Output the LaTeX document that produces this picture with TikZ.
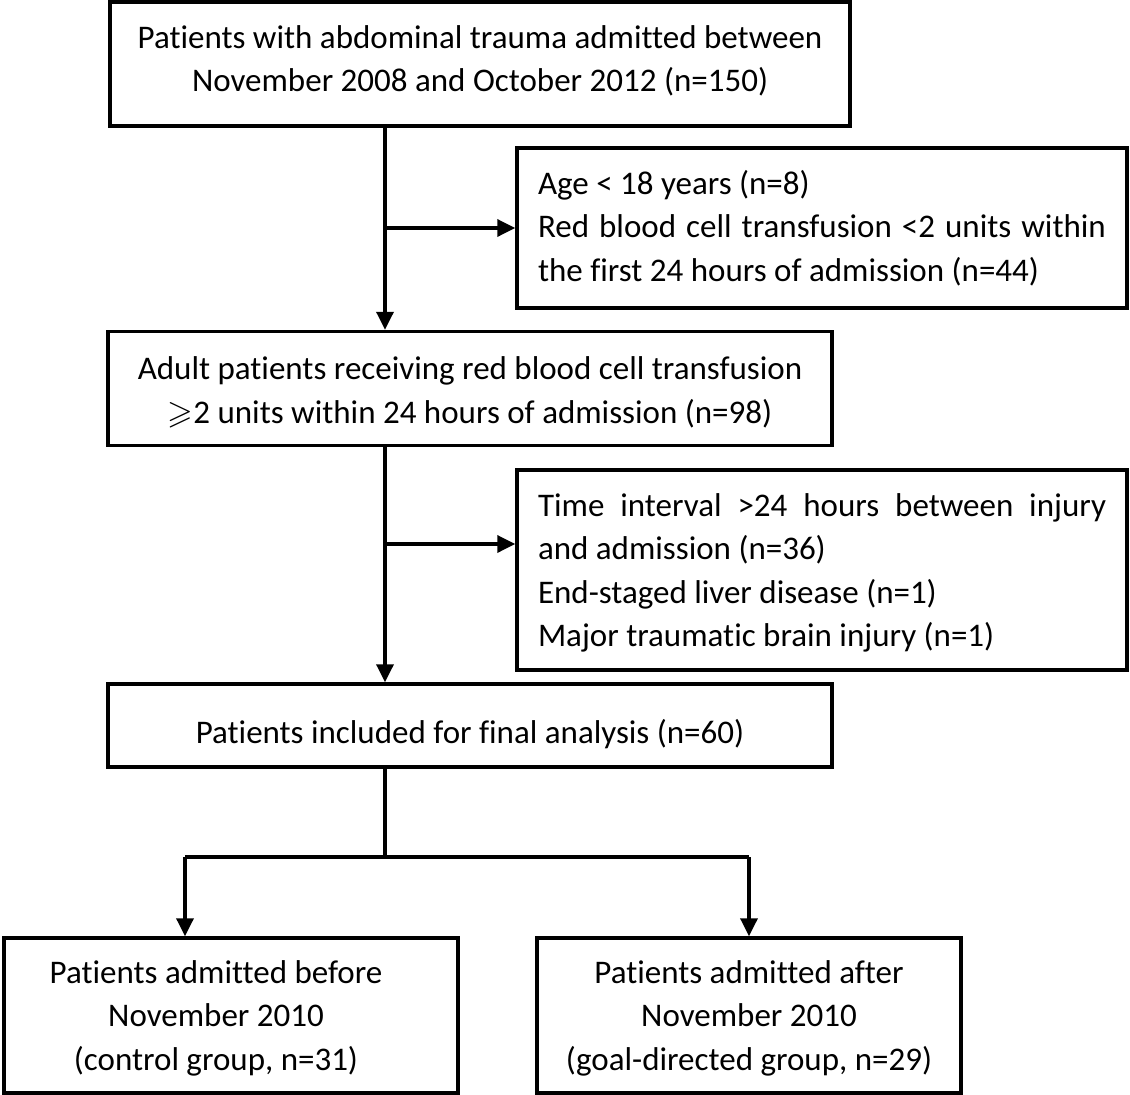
\documentclass[tikz,border=0pt]{standalone}
\usepackage{fontspec}
\setmainfont{Carlito}[Ligatures=NoCommon]
\usepackage{amssymb}
\usetikzlibrary{arrows.meta}
\begin{document}
\begin{tikzpicture}[x=1pt,y=-1pt,line width=3.5pt,
  txt/.style={font=\fontsize{33}{43.5}\selectfont},
  box/.style={txt,draw,line width=3.5pt,inner sep=0pt,align=center},
  sidebox/.style={txt,draw,line width=3.5pt,inner xsep=21pt,inner ysep=0pt,
    text width=568pt,align=flush left},
  arr/.style={-{Triangle[length=18pt,width=17pt]}}]
\useasboundingbox (0,0) rectangle (1130,1095);
\node[box,minimum width=740pt,minimum height=124pt] (b1) at (480,64) {};
\node[txt,align=center] (b1t) at (480,61)
  {Patients with abdominal trauma admitted between\\November 2008 and October 2012 (n=150)};
\node[sidebox,minimum height=160pt] (r1) at (822,228)
  {Age < 18 years (n=8)\\
   \makebox[568pt][s]{Red blood cell transfusion <2 units within}\\
   the first 24 hours of admission (n=44)};
\node[box,minimum width=724pt,minimum height=114pt] (b2) at (470,388.5) {};
\node[txt,align=center] (b2t) at (470,392.5)
  {Adult patients receiving red blood cell transfusion\\$\geqslant$2 units within 24 hours of admission (n=98)};
\node[sidebox,minimum height=200pt] (r2) at (822,570) {};
\node[txt,text width=568pt,align=flush left] (r2t) at (822,573)
  {\makebox[568pt][s]{Time interval >24 hours between injury}\\
   and admission (n=36)\\
   End-staged liver disease (n=1)\\
   Major traumatic brain injury (n=1)};
\node[box,minimum width=724pt,minimum height=83pt] (b3) at (470,725.5) {};
\node[txt] (b3t) at (470,734) {Patients included for final analysis (n=60)};
\node[box,minimum width=454pt,minimum height=155pt] (b4) at (231,1015.5) {};
\node[txt,align=center] (b4t) at (216,1018)
  {Patients admitted before\\November 2010\\(control group, n=31)};
\node[box,minimum width=424pt,minimum height=155pt] (b5) at (749,1015.5) {};
\node[txt,align=center] (b5t) at (749,1018)
  {Patients admitted after\\November 2010\\(goal-directed group, n=29)};
\coordinate (t) at (385,0);
\coordinate (j2) at (385,544);
\coordinate (j3) at (385,857);
\coordinate (jl) at (185,857);
\coordinate (jr) at (749,857);
\draw[arr] (b1.south -| t) -- (b2.north -| t);
\draw[arr] (t |- r1.west) -- (r1.west);
\draw[arr] (b2.south -| t) -- (b3.north -| t);
\draw[arr] (j2) -- (j2 -| r2.west);
\draw (b3.south -| t) -- (j3);
\draw[arr] (jl) -- (b4.north -| jl);
\draw[arr] (jr) -- (b5.north);
\draw (jl) -- (jr);
\end{tikzpicture}
\end{document}
